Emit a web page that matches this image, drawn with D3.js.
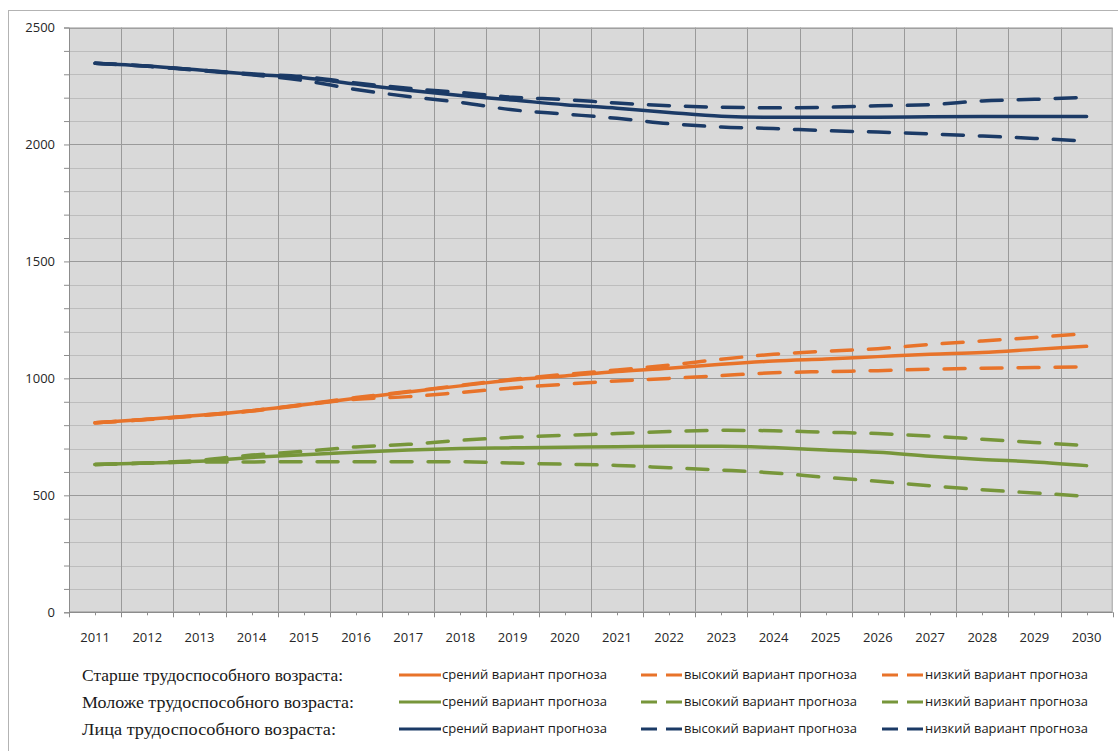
<!DOCTYPE html>
<html>
<head>
<meta charset="utf-8">
<script src="https://cdn.jsdelivr.net/npm/d3@7"></script>
<style>
  html, body { margin: 0; padding: 0; background: #fff; }
  svg { display: block; }
</style>
</head>
<body>
<svg id="chart" width="1118" height="751"></svg>
<script>
// ---------- data ----------
const years = ["2011","2012","2013","2014","2015","2016","2017","2018","2019","2020",
               "2021","2022","2023","2024","2025","2026","2027","2028","2029","2030"];
const yTicks = [0, 500, 1000, 1500, 2000, 2500];

// Старше трудоспособного возраста
const olderMid  = [810, 825, 842, 862, 887, 915, 942, 968, 993, 1010, 1029, 1043, 1060, 1074, 1083, 1093, 1103, 1111, 1124, 1137];
const olderHigh = [810, 825, 842, 862, 889, 918, 944, 970, 996, 1017, 1036, 1057, 1082, 1103, 1116, 1127, 1145, 1160, 1175, 1192];
const olderLow  = [810, 824, 840, 860, 886, 911, 922, 940, 959, 975, 989, 1000, 1012, 1024, 1029, 1033, 1039, 1043, 1046, 1049];
// Моложе трудоспособного возраста
const youngMid  = [632, 638, 646, 662, 674, 684, 694, 700, 703, 706, 708, 710, 710, 704, 694, 684, 667, 653, 643, 627];
const youngHigh = [632, 638, 650, 672, 688, 707, 718, 735, 748, 757, 764, 773, 778, 776, 770, 764, 753, 740, 726, 713];
const youngLow  = [632, 638, 643, 643, 644, 644, 644, 644, 638, 633, 628, 618, 608, 596, 577, 560, 541, 524, 510, 496];
// Лица трудоспособного возраста
const workMid   = [2347, 2335, 2318, 2300, 2285, 2258, 2232, 2209, 2190, 2170, 2155, 2137, 2121, 2116, 2116, 2116, 2118, 2119, 2119, 2119];
const workHigh  = [2347, 2335, 2318, 2302, 2290, 2263, 2240, 2222, 2202, 2192, 2177, 2166, 2159, 2157, 2159, 2165, 2170, 2186, 2193, 2202];
const workLow   = [2347, 2334, 2316, 2298, 2273, 2235, 2205, 2180, 2148, 2130, 2112, 2089, 2075, 2068, 2059, 2053, 2045, 2036, 2026, 2014];

const groupNames = ["Старше трудоспособного возраста:", "Моложе трудоспособного возраста:", "Лица трудоспособного возраста:"];
const variantNames = ["срений вариант прогноза", "высокий вариант прогноза", "низкий вариант прогноза"];
const colors = ["#E8732A", "#77963A", "#1B3A66"];

const series = [
  { group: 0, variant: 0, values: olderMid },
  { group: 0, variant: 1, values: olderHigh },
  { group: 0, variant: 2, values: olderLow },
  { group: 1, variant: 0, values: youngMid },
  { group: 1, variant: 1, values: youngHigh },
  { group: 1, variant: 2, values: youngLow },
  { group: 2, variant: 0, values: workMid },
  { group: 2, variant: 1, values: workHigh },
  { group: 2, variant: 2, values: workLow }
];

// ---------- layout ----------
const svg = d3.select("#chart");
const plot = { left: 69, right: 1112.7, top: 27.5, bottom: 612.3 };

const x = d3.scaleBand().domain(years).range([plot.left, plot.right]).padding(0);
const y = d3.scaleLinear().domain([0, 2500]).range([plot.bottom, plot.top]);
const cx = d => x(d) + x.bandwidth() / 2;

// outer chart frame (cut at right/bottom)
svg.append("rect")
  .attr("x", 8.5).attr("y", 10.5).attr("width", 1200).attr("height", 900)
  .attr("fill", "#fff").attr("stroke", "#B3B3B3").attr("stroke-width", 1);

// plot area
svg.append("rect")
  .attr("x", plot.left).attr("y", plot.top)
  .attr("width", plot.right - plot.left).attr("height", plot.bottom - plot.top)
  .attr("fill", "#D9D9D9");

// horizontal gridlines (minor every 100, major every 500)
const minorVals = d3.range(100, 2500, 100).filter(v => v % 500 !== 0);
svg.append("g").selectAll("line").data(minorVals).join("line")
  .attr("x1", plot.left).attr("x2", plot.right)
  .attr("y1", d => Math.round(y(d)) + 0.5).attr("y2", d => Math.round(y(d)) + 0.5)
  .attr("stroke", "#BDBDBD").attr("stroke-width", 1);
svg.append("g").selectAll("line").data(yTicks.filter(v => v > 0)).join("line")
  .attr("x1", plot.left).attr("x2", plot.right)
  .attr("y1", d => Math.round(y(d)) + 0.5).attr("y2", d => Math.round(y(d)) + 0.5)
  .attr("stroke", "#9A9A9A").attr("stroke-width", 1);

// vertical gridlines at category boundaries
svg.append("g").selectAll("line").data(years.slice(1)).join("line")
  .attr("x1", d => Math.round(x(d)) + 0.5).attr("x2", d => Math.round(x(d)) + 0.5)
  .attr("y1", plot.top).attr("y2", plot.bottom)
  .attr("stroke", "#9A9A9A").attr("stroke-width", 1);

// plot border
svg.append("rect")
  .attr("x", plot.left + 0.5).attr("y", plot.top + 0.5)
  .attr("width", plot.right - plot.left - 1).attr("height", plot.bottom - plot.top - 1)
  .attr("fill", "none").attr("stroke", "#A6A6A6").attr("stroke-width", 1);

// y axis
const yAxis = d3.axisLeft(y)
  .tickValues(d3.range(0, 2501, 100))
  .tickSize(5)
  .tickPadding(9)
  .tickFormat(d => (d % 500 === 0 ? d : ""));
const gy = svg.append("g").attr("transform", `translate(${plot.left},0)`).call(yAxis);
gy.select(".domain").attr("stroke", "#8C8C8C");
gy.selectAll(".tick line").attr("stroke", "#8C8C8C");
gy.selectAll("text").attr("font-family", "'Open Sans', sans-serif").attr("font-size", 13).attr("fill", "#262626");

// x axis line
svg.append("line")
  .attr("x1", plot.left).attr("x2", plot.right)
  .attr("y1", Math.round(plot.bottom) + 0.5).attr("y2", Math.round(plot.bottom) + 0.5)
  .attr("stroke", "#8C8C8C");
// major ticks at boundaries
svg.append("g").selectAll("line").data(years.concat(["end"])).join("line")
  .attr("x1", (d, i) => Math.round(i < years.length ? x(d) : plot.right) + 0.5)
  .attr("x2", (d, i) => Math.round(i < years.length ? x(d) : plot.right) + 0.5)
  .attr("y1", plot.bottom).attr("y2", plot.bottom + 5)
  .attr("stroke", "#8C8C8C");
// minor ticks at centers
svg.append("g").selectAll("line").data(years).join("line")
  .attr("x1", d => Math.round(cx(d)) + 0.5).attr("x2", d => Math.round(cx(d)) + 0.5)
  .attr("y1", plot.bottom).attr("y2", plot.bottom + 3)
  .attr("stroke", "#8C8C8C");
// x labels
const xAxis = d3.axisBottom(x).tickSize(0).tickPadding(20);
const gx = svg.append("g").attr("transform", `translate(0,${plot.bottom})`).call(xAxis);
gx.select(".domain").remove();
gx.selectAll("text").attr("font-family", "'Open Sans', sans-serif").attr("font-size", 13).attr("fill", "#262626");

// lines
const line = d3.line()
  .x((d, i) => cx(years[i]))
  .y(d => y(d))
  .curve(d3.curveMonotoneX);

svg.append("g").selectAll("path").data(series).join("path")
  .attr("d", d => line(d.values))
  .attr("fill", "none")
  .attr("stroke", d => colors[d.group])
  .attr("stroke-width", 3.5)
  .attr("stroke-linecap", "round")
  .attr("stroke-linejoin", "round")
  .attr("stroke-dasharray", d => (d.variant === 0 ? null : "21 16"));

// legend
const rowY = [675, 702, 729];
const legend = svg.append("g");
const groupWidths = [261, 272, 254];
groupNames.forEach((name, g) => {
  legend.append("text")
    .attr("x", 82).attr("y", rowY[g]).attr("dy", "0.35em")
    .attr("font-family", "'Liberation Serif', 'Times New Roman', serif")
    .attr("font-size", 16.5).attr("fill", "#1a1a1a")
    .attr("textLength", groupWidths[g]).attr("lengthAdjust", "spacingAndGlyphs")
    .text(name);
});
const itemX = [
  { x1: 399, x2: 441, tx: 442, tw: 165 },
  { x1: 641, x2: 682, tx: 684, tw: 173 },
  { x1: 882, x2: 923, tx: 925, tw: 163 }
];
series.forEach(s => {
  const it = itemX[s.variant];
  const yy = rowY[s.group];
  legend.append("line")
    .attr("x1", it.x1).attr("x2", it.x2).attr("y1", yy).attr("y2", yy)
    .attr("stroke", colors[s.group]).attr("stroke-width", 3)
    .attr("stroke-dasharray", s.variant === 0 ? null : "16 9");
  legend.append("text")
    .attr("x", it.tx).attr("y", yy).attr("dy", "0.35em")
    .attr("font-family", "'Open Sans', sans-serif").attr("font-size", 12.5).attr("fill", "#1a1a1a")
    .attr("textLength", it.tw).attr("lengthAdjust", "spacingAndGlyphs")
    .text(variantNames[s.variant]);
});
</script>
</body>
</html>
